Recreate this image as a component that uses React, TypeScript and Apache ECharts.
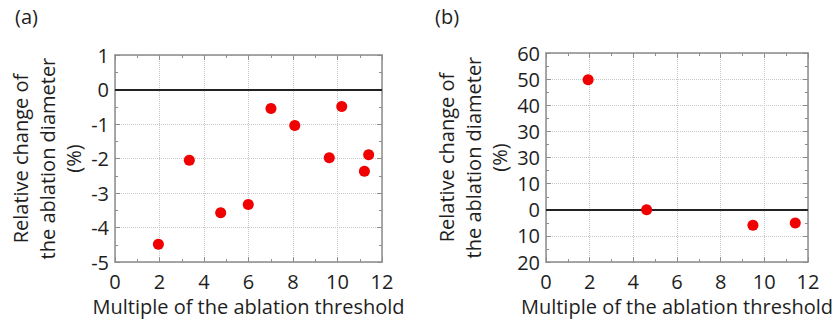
import React, { useEffect, useRef } from "react";
import * as echarts from "echarts";

const xA = [1.95, 3.34, 4.75, 5.99, 7.01, 8.08, 9.63, 10.19, 11.4, 11.21];
const yA = [-4.48, -2.05, -3.57, -3.33, -0.55, -1.04, -1.98, -0.49, -1.89, -2.37];
const xB = [1.93, 4.61, 9.48, 11.42];
const yB = [49.8, 0, -5.9, -5.0];
const yTickLabelsB = ["20", "10", "0", "10", "30", "30", "40", "50", "60"];
const panelLabels = ["(a)", "(b)"];
const xTitle = "Multiple of the ablation threshold";
const yTitle = "Relative change of\nthe ablation diameter\n(%)";

const FONT = "Open Sans";
const TXT = "#1e1e1e";
const BORDER = "#8c8c8c";
const FS = 20;

export default function App() {
  const ref = useRef<HTMLDivElement>(null);
  useEffect(() => {
    if (!ref.current) return;
    const chart = echarts.init(ref.current, null, { renderer: "svg" });
    const grids = [
      { left: 115, top: 55, width: 267, height: 214 },
      { left: 546, top: 53, width: 267, height: 216 },
    ];
    const yCfg = [
      { min: -5, max: 1, interval: 1, fmt: (v: number) => String(v) },
      { min: -20, max: 60, interval: 10, fmt: (v: number) => yTickLabelsB[Math.round((v + 20) / 10)] ?? "" },
    ];
    const xAxes: any[] = [];
    const yAxes: any[] = [];
    grids.forEach((g, i) => {
      const common = {
        type: "value",
        gridIndex: i,
        axisLine: { show: true, onZero: false, lineStyle: { color: BORDER, width: 1.5 } },
        axisTick: { show: true, inside: true, length: 5, lineStyle: { color: BORDER } },
        minorTick: { show: true, splitNumber: 2, length: 3, lineStyle: { color: BORDER } },
      };
      xAxes.push({
        ...common,
        position: "bottom",
        min: 0,
        max: 12,
        interval: 2,
        axisLabel: { fontFamily: FONT, fontSize: FS, color: TXT, margin: 9 },
        splitLine: { show: true, lineStyle: { color: "#c8c8c8", type: "dotted", width: 1 } },
        name: xTitle,
        nameLocation: "middle",
        nameGap: 31,
        nameTextStyle: { fontFamily: FONT, fontSize: FS, color: TXT },
      });
      xAxes.push({
        ...common,
        position: "top",
        min: 0,
        max: 12,
        interval: 2,
        axisLabel: { show: false },
        splitLine: { show: false },
      });
      yAxes.push({
        ...common,
        position: "left",
        min: yCfg[i].min,
        max: yCfg[i].max,
        interval: yCfg[i].interval,
        axisLabel: { fontFamily: FONT, fontSize: FS, color: TXT, margin: 6, formatter: yCfg[i].fmt },
        splitLine: { show: true, lineStyle: { color: "#c8c8c8", type: "dotted", width: 1 } },
        name: yTitle,
        nameLocation: "middle",
        nameRotate: 90,
        nameGap: 27,
        nameTextStyle: { fontFamily: FONT, fontSize: FS, color: TXT, lineHeight: 26.5, align: "center" },
      });
      yAxes.push({
        ...common,
        position: "right",
        min: yCfg[i].min,
        max: yCfg[i].max,
        interval: yCfg[i].interval,
        axisLabel: { show: false },
        splitLine: { show: false },
      });
    });
    const mk = (xs: number[], ys: number[], i: number) => ({
      type: "scatter",
      xAxisIndex: i * 2,
      yAxisIndex: i * 2,
      data: xs.map((x, k) => [x, ys[k]]),
      symbolSize: 11,
      itemStyle: { color: "#f00000", opacity: 1 },
      markLine: {
        silent: true,
        symbol: ["none", "none"],
        label: { show: false },
        lineStyle: { color: "#222", width: 2, type: "solid" },
        data: [{ yAxis: 0 }],
      },
      z: 5,
    });
    chart.setOption({
      animation: false,
      backgroundColor: "#fff",
      grid: grids,
      xAxis: xAxes,
      yAxis: yAxes,
      series: [mk(xA, yA, 0), mk(xB, yB, 1)],
      graphic: [
        { type: "text", left: 15, top: 6, style: { text: panelLabels[0], fontFamily: FONT, fontSize: FS, fill: TXT } },
        { type: "text", left: 435, top: 6, style: { text: panelLabels[1], fontFamily: FONT, fontSize: FS, fill: TXT } },
      ],
    });
    return () => chart.dispose();
  }, []);
  return (
    <div
      ref={ref}
      style={{ position: "fixed", left: 0, top: 0, width: 836, height: 321 }}
    />
  );
}
